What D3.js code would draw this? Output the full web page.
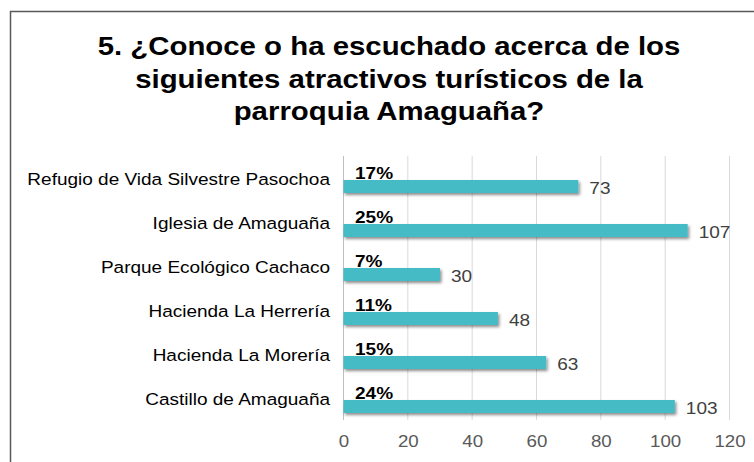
<!DOCTYPE html>
<html>
<head>
<meta charset="utf-8">
<script src="https://cdn.jsdelivr.net/npm/d3@7"></script>
<style>
  html, body { margin: 0; padding: 0; background: #fff; }
  svg { display: block; font-family: "Liberation Sans", Arial, sans-serif; }
</style>
</head>
<body>
<svg id="chart" width="754" height="462"></svg>
<script>
const titleLines = [
  "5. ¿Conoce o ha escuchado acerca de los",
  "siguientes atractivos turísticos de la",
  "parroquia Amaguaña?"
];
const categories = [
  "Refugio de Vida Silvestre Pasochoa",
  "Iglesia de Amaguaña",
  "Parque Ecológico Cachaco",
  "Hacienda La Herrería",
  "Hacienda La Morería",
  "Castillo de Amaguaña"
];
const counts = [73, 107, 30, 48, 63, 103];
const percents = ["17%", "25%", "7%", "11%", "15%", "24%"];
const xTicks = [0, 20, 40, 60, 80, 100, 120];

const svg = d3.select("#chart");

// horizontal stretch helper (reference glyphs are wider than tall)
function stretch(sel, sx) {
  sel.each(function() {
    const t = d3.select(this);
    const px = +t.attr("x") || 0, py = +t.attr("y") || 0;
    t.attr("x", 0).attr("y", 0)
     .attr("transform", `translate(${px},${py}) scale(${sx},1)`);
  });
}

const defs = svg.append("defs");
const f = defs.append("filter").attr("id", "shadow")
  .attr("x", "-5%").attr("y", "-50%").attr("width", "110%").attr("height", "250%");
f.append("feDropShadow").attr("dx", 1.5).attr("dy", 2).attr("stdDeviation", 1.5)
  .attr("flood-color", "#000").attr("flood-opacity", 0.45);

// outer border
svg.append("rect")
  .attr("x", 10.5).attr("y", 11.5).attr("width", 780).attr("height", 480)
  .attr("fill", "none").attr("stroke", "#595959").attr("stroke-width", 1.5);

// title
svg.append("g").selectAll("text").data(titleLines).join("text")
  .attr("x", 389).attr("y", (d, i) => 55 + i * 32.5)
  .attr("text-anchor", "middle")
  .attr("font-size", 26).attr("font-weight", "bold").attr("fill", "#000")
  .text(d => d)
  .call(stretch, 1.13);

const x = d3.scaleLinear().domain([0, 120]).range([343.5, 729.5]);
const y = d3.scaleBand().domain(categories).range([156, 420]);

// gridlines
svg.append("g").selectAll("line").data(xTicks).join("line")
  .attr("x1", d => x(d)).attr("x2", d => x(d))
  .attr("y1", 156).attr("y2", 420)
  .attr("stroke", d => d === 0 ? "#bfbfbf" : "#d9d9d9").attr("stroke-width", 1);

// x axis labels
const xAxis = d3.axisBottom(x).tickValues(xTicks).tickSize(0).tickPadding(0);
const gx = svg.append("g").attr("transform", "translate(0,435)").call(xAxis);
gx.select(".domain").remove();
gx.selectAll("text")
  .attr("font-family", "Liberation Sans, Arial, sans-serif")
  .attr("font-size", 17).attr("fill", "#595959").attr("dy", "0.72em")
  .attr("transform", "scale(1.1,1)");
gx.selectAll(".tick").each(function(d) {
  d3.select(this).select("text").attr("transform", "scale(1.1,1)");
});

const barH = 13;
const barC = d => y(d) + y.bandwidth() / 2 + 8.5;

// bars
svg.append("g").selectAll("rect").data(categories).join("rect")
  .attr("x", x(0)).attr("y", d => barC(d) - barH / 2)
  .attr("width", (d, i) => x(counts[i]) - x(0)).attr("height", barH)
  .attr("fill", "#45BBC5").attr("filter", "url(#shadow)");

// category labels
svg.append("g").selectAll("text").data(categories).join("text")
  .attr("x", 330).attr("y", d => y(d) + y.bandwidth() / 2 + 1)
  .attr("dy", "0.35em").attr("text-anchor", "end")
  .attr("font-size", 17).attr("fill", "#000")
  .text(d => d)
  .call(stretch, 1.118);

// percent labels
svg.append("g").selectAll("text").data(categories).join("text")
  .attr("x", 355).attr("y", d => barC(d) - barH / 2 - 1.5)
  .attr("font-size", 17).attr("font-weight", "bold").attr("fill", "#000")
  .text((d, i) => percents[i])
  .call(stretch, 1.12);

// value labels
svg.append("g").selectAll("text").data(categories).join("text")
  .attr("x", (d, i) => x(counts[i]) + 11).attr("y", d => barC(d) + 1.5)
  .attr("dy", "0.35em")
  .attr("font-size", 17).attr("fill", "#404040")
  .text((d, i) => counts[i])
  .call(stretch, 1.12);
</script>
</body>
</html>
